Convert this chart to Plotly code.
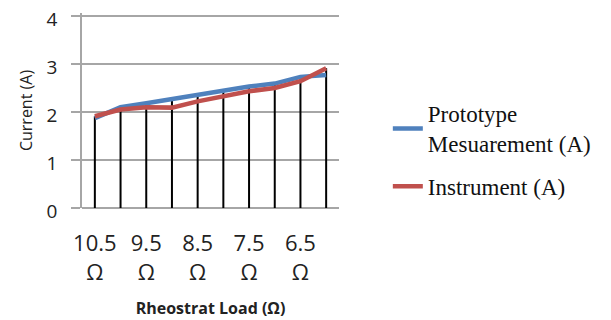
import plotly.graph_objects as go

categories = ["10.5 Ω", "10 Ω", "9.5 Ω", "9 Ω", "8.5 Ω", "8 Ω", "7.5 Ω", "7 Ω", "6.5 Ω", "6 Ω"]
tick_labels = ["10.5<br>Ω", "9.5<br>Ω", "8.5<br>Ω", "7.5<br>Ω", "6.5<br>Ω"]
prototype = [1.87, 2.10, 2.18, 2.27, 2.35, 2.43, 2.53, 2.59, 2.73, 2.77]
instrument = [1.91, 2.05, 2.10, 2.09, 2.22, 2.32, 2.43, 2.50, 2.64, 2.91]

drop_x, drop_y = [], []
for c, a, b in zip(categories, prototype, instrument):
    drop_x += [c, c, None]
    drop_y += [0, max(a, b), None]

fig = go.Figure()
fig.add_trace(go.Scatter(x=drop_x, y=drop_y, mode="lines",
                         line=dict(color="black", width=2), showlegend=False, hoverinfo="skip"))
fig.add_trace(go.Scatter(x=categories, y=prototype, mode="lines", name="Prototype<br>Mesuarement (A)",
                         legendgroup="proto", line=dict(color="#4F81BD", width=4.5)))
fig.add_trace(go.Scatter(x=categories, y=instrument, mode="lines", name="Instrument (A)",
                         legendgroup="inst", line=dict(color="#C0504D", width=4.5)))

# page body has an 8px margin, so the figure is sized to fit the 611x320 window
fig.update_layout(
    width=603, height=312,
    margin=dict(l=74, r=272, t=5, b=112, autoexpand=False),
    paper_bgcolor="white", plot_bgcolor="white",
    font=dict(family="Open Sans, Liberation Sans, sans-serif", color="#222"),
    legend=dict(x=1.19, y=0.595, xanchor="left", yanchor="top",
                font=dict(family="Liberation Serif, serif", size=23, color="#111"),
                tracegroupgap=10, bgcolor="rgba(0,0,0,0)"),
    showlegend=True,
)
fig.update_xaxes(type="category", categoryorder="array", categoryarray=categories,
                 range=[-0.5, 9.5], tickvals=categories[::2], ticktext=tick_labels,
                 tickfont=dict(size=22, family="Open Sans, sans-serif", color="#222"),
                 showgrid=False, showline=False, ticks="", tickangle=0, automargin=False,
                 ticklabelstandoff=20,
                 title=dict(text="<b>Rheostrat Load (Ω)</b>", font=dict(size=16, color="#222"), standoff=18))
fig.update_yaxes(range=[0, 4.06], tickvals=[0, 1, 2, 3, 4], showgrid=True, gridcolor="#A6A6A6", gridwidth=1.5,
                 zeroline=True, zerolinecolor="#A6A6A6", zerolinewidth=1.5,
                 showline=True, linecolor="#A6A6A6", linewidth=1.5,
                 ticks="outside", ticklen=9, tickcolor="#A6A6A6", tickwidth=1.5,
                 tickfont=dict(size=19, color="#222"), automargin=False, ticklabelstandoff=10,
                 ticklabelshift=3, ticklabeloverflow="allow",
                 title=dict(text="Current (A)", font=dict(size=16, color="#222"), standoff=10))

fig.write_html("out.html")
